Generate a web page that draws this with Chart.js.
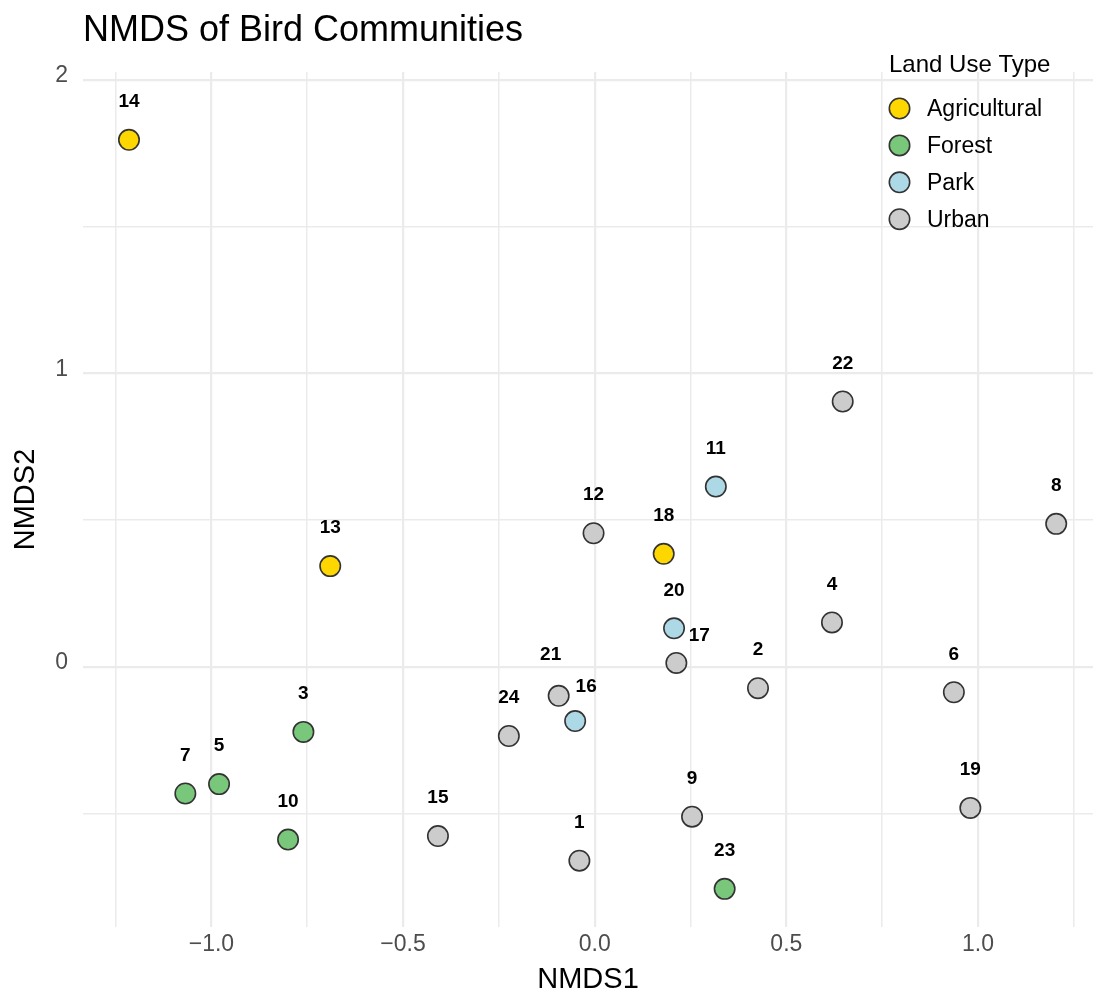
<!DOCTYPE html>
<html>
<head>
<meta charset="utf-8">
<title>NMDS of Bird Communities</title>
<script src="https://cdn.jsdelivr.net/npm/chart.js@4.4.1/dist/chart.umd.min.js"></script>
<style>
  html, body { margin: 0; padding: 0; background: #fff; }
  #wrap { width: 1094px; height: 996px; }
</style>
</head>
<body>
<div id="wrap"><canvas id="nmds" width="1094" height="996"></canvas></div>
<script>
// site scores
var siteIds = [1, 2, 3, 4, 5, 6, 7, 8, 9, 10, 11, 12,
               13, 14, 15, 16, 17, 18, 19, 20, 21, 22, 23, 24];
var nmds1 = [-0.040, 0.426, -0.760, 0.619, -0.980, 0.937, -1.068, 1.204, 0.254, -0.800, 0.316, -0.003,
             -0.690, -1.215, -0.409, -0.051, 0.213, 0.180, 0.980, 0.207, -0.094, 0.647, 0.339, -0.224];
var nmds2 = [-0.661, -0.073, -0.222, 0.151, -0.400, -0.087, -0.432, 0.487, -0.511, -0.589, 0.614, 0.455,
             0.343, 1.796, -0.577, -0.185, 0.013, 0.385, -0.481, 0.131, -0.099, 0.904, -0.757, -0.236];
var landUse = ['Urban', 'Urban', 'Forest', 'Urban', 'Forest', 'Urban', 'Forest', 'Urban', 'Urban', 'Forest', 'Park', 'Urban',
               'Agricultural', 'Agricultural', 'Urban', 'Park', 'Urban', 'Agricultural', 'Urban', 'Park', 'Urban', 'Urban', 'Forest', 'Urban'];

var landUseTypes = ['Agricultural', 'Forest', 'Park', 'Urban'];
var landUseColors = ['#FFD700', '#78C77A', '#ADD8E6', '#CCCCCC'];

var xTickValues = [-1.0, -0.5, 0.0, 0.5, 1.0];
var xTickLabels = ['\u22121.0', '\u22120.5', '0.0', '0.5', '1.0'];
var yTickValues = [0, 1, 2];
var yTickLabels = ['0', '1', '2'];

// labels that got pushed aside (repelled), pixel shifts from the default spot
var labelNudge = { 17: [23, 11], 21: [-8, -3], 16: [11, 4] };

function tickLabel(values, labels, v) {
  for (var i = 0; i < values.length; i++) {
    if (Math.abs(values[i] - v) < 1e-6) return labels[i];
  }
  return '';
}

var datasets = landUseTypes.map(function(type, t) {
  var pts = [];
  for (var i = 0; i < siteIds.length; i++) {
    if (landUse[i] === type) pts.push({ x: nmds1[i], y: nmds2[i], id: siteIds[i] });
  }
  return {
    label: type,
    data: pts,
    backgroundColor: landUseColors[t],
    borderColor: '#333333',
    borderWidth: 1.6,
    pointRadius: 10.2,
    pointHoverRadius: 10.2
  };
});

var fontFam = "'Liberation Sans', Arial, Helvetica, sans-serif";
Chart.defaults.font.family = fontFam;

var extras_plug = {
  id: 'extras',
  afterDatasetsDraw: function(chart) {
    var ctx = chart.ctx;
    ctx.save();
    ctx.font = 'bold 19px ' + fontFam;
    ctx.fillStyle = '#000000';
    ctx.textAlign = 'center';
    ctx.textBaseline = 'middle';
    chart.data.datasets.forEach(function(ds, d) {
      var meta = chart.getDatasetMeta(d);
      ds.data.forEach(function(p, j) {
        var el = meta.data[j];
        var n = labelNudge[p.id] || [0, 0];
        ctx.fillText(String(p.id), el.x + n[0], el.y - 38 + n[1]);
      });
    });
    ctx.restore();
  },
  afterDraw: function(chart) {
    var ctx = chart.ctx;
    ctx.save();

    //title
    ctx.font = '36px ' + fontFam;
    ctx.fillStyle = '#000000';
    ctx.textAlign = 'left';
    ctx.textBaseline = 'alphabetic';
    ctx.fillText('NMDS of Bird Communities', 83, 41);

    //legend
    ctx.font = '24px ' + fontFam;
    ctx.fillText('Land Use Type', 889, 72);
    ctx.font = '23px ' + fontFam;
    ctx.textBaseline = 'middle';
    landUseTypes.forEach(function(type, t) {
      var y = 108.5 + t * 36.9;
      ctx.beginPath();
      ctx.arc(899.5, y, 10.2, 0, Math.PI * 2);
      ctx.fillStyle = landUseColors[t];
      ctx.fill();
      ctx.lineWidth = 1.6;
      ctx.strokeStyle = '#333333';
      ctx.stroke();
      ctx.fillStyle = '#000000';
      ctx.fillText(type, 927, y + 1);
    });
    ctx.restore();
  }
};

var ctx = document.getElementById('nmds').getContext('2d');
var nmdsChart = new Chart(ctx, {
  type: 'scatter',
  plugins: [extras_plug],
  data: { datasets: datasets },
  options: {
    responsive: false,
    animation: false,
    events: [],
    devicePixelRatio: 1,
    layout: { autoPadding: false, padding: { top: 72, left: 0, right: 1, bottom: 0 } },
    plugins: {
      legend: { display: false },
      tooltip: { enabled: false },
      title: { display: false }
    },
    scales: {
      x: {
        type: 'linear',
        min: -1.335,
        max: 1.30,
        afterFit: function(scale) {
          scale.height = 69;
          scale.paddingLeft = 0;
          scale.paddingRight = 0;
        },
        border: { display: false },
        grid: {
          color: '#EBEBEB',
          drawTicks: false,
          lineWidth: function(c) {
            var v = c.tick ? c.tick.value : 0;
            return Math.abs(v * 2 - Math.round(v * 2)) < 1e-6 ? 2.2 : 1.5;
          }
        },
        ticks: {
          stepSize: 0.25,
          includeBounds: false,
          autoSkip: false,
          maxRotation: 0,
          padding: 4,
          color: '#4D4D4D',
          font: { size: 23 },
          callback: function(v) { return tickLabel(xTickValues, xTickLabels, v); }
        },
        title: {
          display: true,
          text: 'NMDS1',
          color: '#000000',
          font: { size: 29, lineHeight: 1 },
          padding: { top: 0, bottom: 1.5 }
        }
      },
      y: {
        type: 'linear',
        min: -0.887,
        max: 2.027,
        afterFit: function(scale) {
          scale.width = 83;
          scale.paddingTop = 0;
          scale.paddingBottom = 0;
        },
        border: { display: false },
        grid: {
          color: '#EBEBEB',
          drawTicks: false,
          lineWidth: function(c) {
            var v = c.tick ? c.tick.value : 0;
            return Math.abs(v - Math.round(v)) < 1e-6 ? 2.2 : 1.5;
          }
        },
        ticks: {
          stepSize: 0.5,
          includeBounds: false,
          autoSkip: false,
          padding: 15,
          labelOffset: -4,
          color: '#4D4D4D',
          font: { size: 23 },
          callback: function(v) { return tickLabel(yTickValues, yTickLabels, v); }
        },
        title: {
          display: true,
          text: 'NMDS2',
          color: '#000000',
          font: { size: 29, lineHeight: 1 },
          padding: { top: 11, bottom: 0 }
        }
      }
    }
  }
});
</script>
</body>
</html>
